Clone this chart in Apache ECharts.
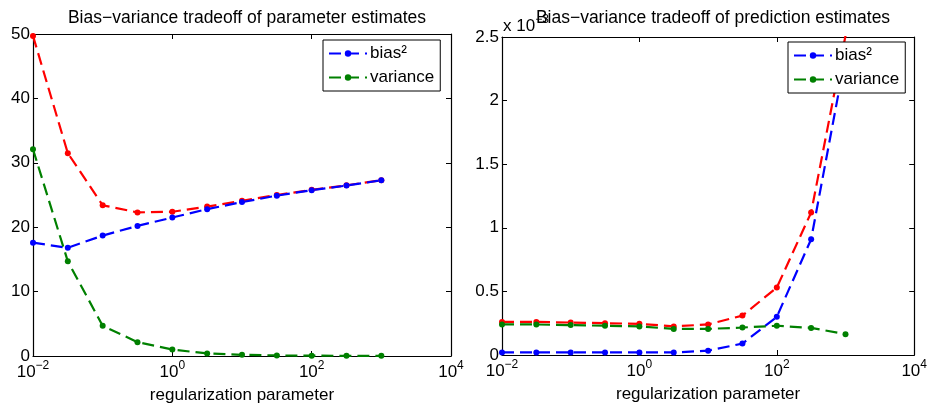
<!DOCTYPE html>
<html>
<head>
<meta charset="utf-8">
<script src="https://cdn.jsdelivr.net/npm/echarts@6/dist/echarts.min.js"></script>
<style>
  html, body { margin: 0; padding: 0; background: #fff; }
  #chart { width: 930px; height: 412px; }
</style>
</head>
<body>
<div id="chart"></div>
<script>
// Regularization strengths (half-decade steps)
const lambdas = [0.01, 0.0316, 0.1, 0.316, 1, 3.16, 10, 31.6, 100, 316, 1000];

// Parameter estimates
const paramTotal    = [49.7, 31.5, 23.4, 22.3, 22.4, 23.2, 24.1, 25.0, 25.8, 26.5, 27.3];
const paramBias2    = [17.6, 16.8, 18.7, 20.2, 21.5, 22.8, 23.9, 24.9, 25.75, 26.47, 27.28];
const paramVariance = [32.1, 14.7, 4.7, 2.15, 1.0, 0.4, 0.18, 0.09, 0.05, 0.03, 0.02];

// Prediction estimates, in units of 1e-3
const predTotal    = [0.26, 0.26, 0.255, 0.25, 0.245, 0.225, 0.24, 0.31, 0.53, 1.12, 2.51];
const predBias2    = [0.02, 0.02, 0.02, 0.02, 0.02, 0.02, 0.034, 0.09, 0.30, 0.91, 2.35];
const predVariance = [0.24, 0.24, 0.235, 0.23, 0.225, 0.205, 0.205, 0.216, 0.23, 0.213, 0.164];

// Tick values
const leftYTicks = [0, 10, 20, 30, 40, 50];
const rightYTicks = [0, 0.5, 1, 1.5, 2, 2.5];

const FONT = 'Liberation Sans, Arial, Helvetica, sans-serif';
const BLUE = '#0000ff', GREEN = '#008000', RED = '#ff0000';

const pairs = ys => lambdas.map((x, i) => [x, ys[i]]);

const supRich = {
  b: { fontSize: 17, fontFamily: FONT, color: '#000', lineHeight: 20, verticalAlign: 'bottom' },
  s: { fontSize: 12, fontFamily: FONT, color: '#000', lineHeight: 20, verticalAlign: 'bottom', padding: [0, 0, 9, 0] }
};

function logXAxis(gridIndex, showLabel) {
  return {
    type: 'log', logBase: 10, min: 0.01, max: 10000, interval: 2,
    gridIndex: gridIndex,
    position: showLabel ? 'bottom' : 'top',
    name: showLabel ? 'regularization parameter' : '',
    nameLocation: 'middle', nameGap: 31,
    nameTextStyle: { fontSize: 17, fontFamily: FONT, color: '#000' },
    axisLine: { show: true, onZero: false, lineStyle: { color: '#000', width: 1.2 } },
    axisTick: { show: true, inside: true, length: 5, lineStyle: { color: '#000' } },
    minorTick: { show: false },
    splitLine: { show: false },
    axisLabel: {
      show: showLabel, margin: 5,
      formatter: v => '{b|10}{s|' + String(Math.round(Math.log10(v))).replace('-', '\u2212') + '}',
      rich: supRich
    }
  };
}

function linYAxis(gridIndex, max, interval, showLabel, fmt) {
  return {
    type: 'value', min: 0, max: max, interval: interval,
    gridIndex: gridIndex,
    position: showLabel ? 'left' : 'right',
    axisLine: { show: true, onZero: false, lineStyle: { color: '#000', width: 1.2 } },
    axisTick: { show: true, inside: true, length: 5, lineStyle: { color: '#000' } },
    splitLine: { show: false },
    axisLabel: {
      show: showLabel, margin: 3, fontSize: 17, fontFamily: FONT, color: '#000',
      formatter: fmt
    }
  };
}

function lineSeries(name, color, data, xi, yi) {
  return {
    type: 'line', name: name, data: data,
    xAxisIndex: xi, yAxisIndex: yi,
    symbol: 'circle', symbolSize: 6,
    lineStyle: { color: color, width: 2.2, type: [12, 6] },
    itemStyle: { color: color },
    clip: true, animation: false, z: 3
  };
}

function legendBox(left, top) {
  return {
    orient: 'vertical', left: left, top: top,
    data: ['bias\u00b2', 'variance'],
    backgroundColor: '#fff', borderColor: '#000', borderWidth: 1,
    padding: [5, 6, 5, 5], itemGap: 7, itemWidth: 38, itemHeight: 8,
    textStyle: { fontSize: 17, fontFamily: FONT, color: '#000', padding: [0, 0, 0, -2] },
    selectedMode: false, z: 10
  };
}

const fmtLeft = v => leftYTicks.includes(v) ? String(v) : '';
const fmtRight = v => {
  const r = Math.round(v * 10) / 10;
  return rightYTicks.includes(r) ? String(r) : '';
};

const chart = echarts.init(document.getElementById('chart'), null, { renderer: 'canvas' });
chart.setOption({
  animation: false,
  backgroundColor: '#fff',
  title: [
    { text: 'Bias\u2212variance tradeoff of parameter estimates', left: 242, top: 4, textAlign: 'center',
      textStyle: { fontSize: 17.5, fontWeight: 'normal', fontFamily: FONT, color: '#000' } },
    { text: 'Bias\u2212variance tradeoff of prediction estimates', left: 708, top: 4, textAlign: 'center',
      textStyle: { fontSize: 17.5, fontWeight: 'normal', fontFamily: FONT, color: '#000' } }
  ],
  grid: [
    { left: 33, right: 479, top: 34, bottom: 56, containLabel: false },
    { left: 502, right: 15, top: 37, bottom: 57, containLabel: false }
  ],
  legend: [legendBox(323, 40), legendBox(788, 42)],
  xAxis: [logXAxis(0, true), logXAxis(0, false), logXAxis(1, true), logXAxis(1, false)],
  yAxis: [
    linYAxis(0, 50, 10, true, fmtLeft), linYAxis(0, 50, 10, false, fmtLeft),
    linYAxis(1, 2.5, 0.5, true, fmtRight), linYAxis(1, 2.5, 0.5, false, fmtRight)
  ],
  graphic: [
    { type: 'text', left: 503, top: 14, z: 5,
      style: { text: '{b|x 10}{s|\u22123}', rich: {
        b: { fontSize: 17, fontFamily: FONT, fill: '#000', lineHeight: 20, verticalAlign: 'bottom' },
        s: { fontSize: 12, fontFamily: FONT, fill: '#000', lineHeight: 20, verticalAlign: 'bottom', padding: [0, 0, 9, 0] }
      } } }
  ],
  series: [
    lineSeries('total', RED, pairs(paramTotal), 0, 0),
    lineSeries('bias\u00b2', BLUE, pairs(paramBias2), 0, 0),
    lineSeries('variance', GREEN, pairs(paramVariance), 0, 0),
    lineSeries('total', RED, pairs(predTotal), 2, 2),
    lineSeries('bias\u00b2', BLUE, pairs(predBias2), 2, 2),
    lineSeries('variance', GREEN, pairs(predVariance), 2, 2)
  ]
});
</script>
</body>
</html>
